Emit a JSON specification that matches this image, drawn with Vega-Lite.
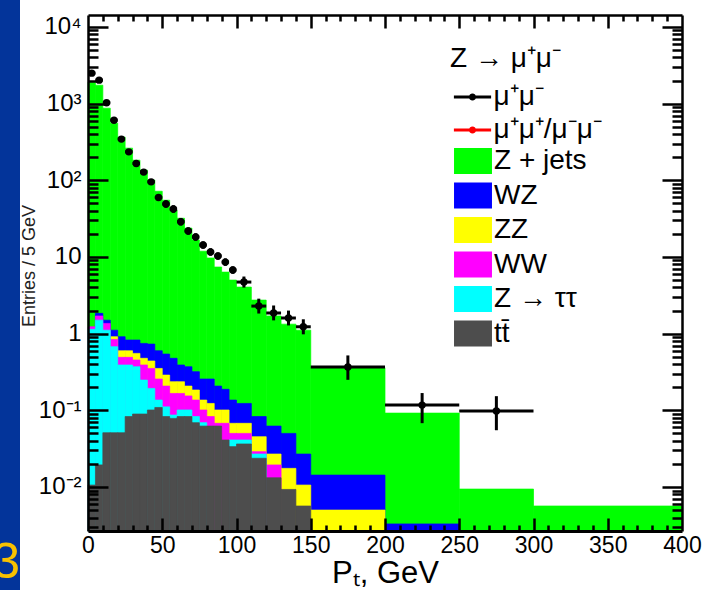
{
  "$schema": "https://vega.github.io/schema/vega-lite/v6.json",
  "padding": 0,
  "background": "white",
  "spacing": 0,
  "config": {"view": {"stroke": null}, "font": "Liberation Sans", "scale": {"continuousPadding": 0}},
  "datasets": {
    "hist": [
      {"lo":0,"hi":5,"p":"Z + jets","top":1905},{"lo":5,"hi":10,"p":"Z + jets","top":1740},{"lo":10,"hi":15,"p":"Z + jets","top":873},{"lo":15,"hi":20,"p":"Z + jets","top":557},{"lo":20,"hi":25,"p":"Z + jets","top":366},{"lo":25,"hi":30,"p":"Z + jets","top":263},{"lo":30,"hi":35,"p":"Z + jets","top":183},{"lo":35,"hi":40,"p":"Z + jets","top":136},{"lo":40,"hi":45,"p":"Z + jets","top":101},{"lo":45,"hi":50,"p":"Z + jets","top":72},{"lo":50,"hi":55,"p":"Z + jets","top":55},{"lo":55,"hi":60,"p":"Z + jets","top":41},{"lo":60,"hi":65,"p":"Z + jets","top":32},{"lo":65,"hi":70,"p":"Z + jets","top":23.8},{"lo":70,"hi":75,"p":"Z + jets","top":16.6},{"lo":75,"hi":80,"p":"Z + jets","top":11.9},{"lo":80,"hi":85,"p":"Z + jets","top":9.7},{"lo":85,"hi":90,"p":"Z + jets","top":7.4},{"lo":90,"hi":95,"p":"Z + jets","top":6.35},{"lo":95,"hi":100,"p":"Z + jets","top":5.0},{"lo":100,"hi":110,"p":"Z + jets","top":4.05},{"lo":110,"hi":120,"p":"Z + jets","top":2.74},{"lo":120,"hi":130,"p":"Z + jets","top":1.70},{"lo":130,"hi":140,"p":"Z + jets","top":1.33},{"lo":140,"hi":150,"p":"Z + jets","top":1.11},{"lo":150,"hi":200,"p":"Z + jets","top":0.36},{"lo":200,"hi":250,"p":"Z + jets","top":0.092},{"lo":250,"hi":300,"p":"Z + jets","top":0.0094},{"lo":300,"hi":400,"p":"Z + jets","top":0.00565},
      {"lo":5,"hi":10,"p":"WZ","top":1.84},{"lo":10,"hi":15,"p":"WZ","top":1.50},{"lo":15,"hi":20,"p":"WZ","top":1.11},{"lo":20,"hi":25,"p":"WZ","top":0.912},{"lo":25,"hi":30,"p":"WZ","top":0.826},{"lo":30,"hi":35,"p":"WZ","top":0.826},{"lo":35,"hi":40,"p":"WZ","top":0.746},{"lo":40,"hi":45,"p":"WZ","top":0.731},{"lo":45,"hi":50,"p":"WZ","top":0.598},{"lo":50,"hi":55,"p":"WZ","top":0.542},{"lo":55,"hi":60,"p":"WZ","top":0.477},{"lo":60,"hi":65,"p":"WZ","top":0.39},{"lo":65,"hi":70,"p":"WZ","top":0.37},{"lo":70,"hi":75,"p":"WZ","top":0.319},{"lo":75,"hi":80,"p":"WZ","top":0.256},{"lo":80,"hi":85,"p":"WZ","top":0.256},{"lo":85,"hi":90,"p":"WZ","top":0.207},{"lo":90,"hi":95,"p":"WZ","top":0.188},{"lo":95,"hi":100,"p":"WZ","top":0.136},{"lo":100,"hi":110,"p":"WZ","top":0.123},{"lo":110,"hi":120,"p":"WZ","top":0.083},{"lo":120,"hi":130,"p":"WZ","top":0.0623},{"lo":130,"hi":140,"p":"WZ","top":0.050},{"lo":140,"hi":150,"p":"WZ","top":0.0269},{"lo":150,"hi":200,"p":"WZ","top":0.0143},{"lo":200,"hi":250,"p":"WZ","top":0.0033},
      {"lo":15,"hi":20,"p":"ZZ","top":0.912},{"lo":20,"hi":25,"p":"ZZ","top":0.598},{"lo":25,"hi":30,"p":"ZZ","top":0.598},{"lo":30,"hi":35,"p":"ZZ","top":0.553},{"lo":35,"hi":40,"p":"ZZ","top":0.477},{"lo":40,"hi":45,"p":"ZZ","top":0.44},{"lo":45,"hi":50,"p":"ZZ","top":0.352},{"lo":50,"hi":55,"p":"ZZ","top":0.288},{"lo":55,"hi":60,"p":"ZZ","top":0.236},{"lo":60,"hi":65,"p":"ZZ","top":0.236},{"lo":65,"hi":70,"p":"ZZ","top":0.207},{"lo":70,"hi":75,"p":"ZZ","top":0.184},{"lo":75,"hi":80,"p":"ZZ","top":0.136},{"lo":80,"hi":85,"p":"ZZ","top":0.123},{"lo":85,"hi":90,"p":"ZZ","top":0.101},{"lo":90,"hi":95,"p":"ZZ","top":0.101},{"lo":95,"hi":100,"p":"ZZ","top":0.0677},{"lo":100,"hi":110,"p":"ZZ","top":0.0677},{"lo":110,"hi":120,"p":"ZZ","top":0.0453},{"lo":120,"hi":130,"p":"ZZ","top":0.0269},{"lo":130,"hi":140,"p":"ZZ","top":0.0175},{"lo":140,"hi":150,"p":"ZZ","top":0.0106},{"lo":150,"hi":200,"p":"ZZ","top":0.0050},
      {"lo":0,"hi":5,"p":"WW","top":1.23},{"lo":5,"hi":10,"p":"WW","top":1.70},{"lo":10,"hi":15,"p":"WW","top":1.36},{"lo":15,"hi":20,"p":"WW","top":0.841},{"lo":20,"hi":25,"p":"WW","top":0.491},{"lo":25,"hi":30,"p":"WW","top":0.491},{"lo":30,"hi":35,"p":"WW","top":0.453},{"lo":35,"hi":40,"p":"WW","top":0.39},{"lo":40,"hi":45,"p":"WW","top":0.352},{"lo":45,"hi":50,"p":"WW","top":0.256},{"lo":50,"hi":55,"p":"WW","top":0.207},{"lo":55,"hi":60,"p":"WW","top":0.166},{"lo":60,"hi":65,"p":"WW","top":0.166},{"lo":65,"hi":70,"p":"WW","top":0.154},{"lo":70,"hi":75,"p":"WW","top":0.136},{"lo":75,"hi":80,"p":"WW","top":0.101},{"lo":80,"hi":85,"p":"WW","top":0.083},{"lo":85,"hi":90,"p":"WW","top":0.0677},{"lo":90,"hi":95,"p":"WW","top":0.0677},{"lo":95,"hi":100,"p":"WW","top":0.050},{"lo":100,"hi":110,"p":"WW","top":0.050},{"lo":110,"hi":120,"p":"WW","top":0.0289},{"lo":120,"hi":130,"p":"WW","top":0.0194},
      {"lo":0,"hi":5,"p":"Z → ττ","top":1.14},{"lo":5,"hi":10,"p":"Z → ττ","top":1.50},{"lo":10,"hi":15,"p":"Z → ττ","top":1.11},{"lo":15,"hi":20,"p":"Z → ττ","top":0.676},{"lo":20,"hi":25,"p":"Z → ττ","top":0.39},{"lo":25,"hi":30,"p":"Z → ττ","top":0.39},{"lo":30,"hi":35,"p":"Z → ττ","top":0.37},{"lo":35,"hi":40,"p":"Z → ττ","top":0.248},{"lo":40,"hi":45,"p":"Z → ττ","top":0.193},{"lo":45,"hi":50,"p":"Z → ττ","top":0.136},{"lo":50,"hi":55,"p":"Z → ττ","top":0.111},{"lo":55,"hi":60,"p":"Z → ττ","top":0.0868},{"lo":60,"hi":65,"p":"Z → ττ","top":0.101},{"lo":65,"hi":70,"p":"Z → ττ","top":0.101},{"lo":70,"hi":75,"p":"Z → ττ","top":0.083},{"lo":75,"hi":80,"p":"Z → ττ","top":0.069},{"lo":95,"hi":100,"p":"Z → ττ","top":0.041},{"lo":100,"hi":110,"p":"Z → ττ","top":0.041},{"lo":110,"hi":120,"p":"Z → ττ","top":0.0269},
      {"lo":0,"hi":5,"p":"tt̄","top":0.0106},{"lo":5,"hi":10,"p":"tt̄","top":0.0194},{"lo":10,"hi":15,"p":"tt̄","top":0.051},{"lo":15,"hi":20,"p":"tt̄","top":0.051},{"lo":20,"hi":25,"p":"tt̄","top":0.051},{"lo":25,"hi":30,"p":"tt̄","top":0.083},{"lo":30,"hi":35,"p":"tt̄","top":0.0895},{"lo":35,"hi":40,"p":"tt̄","top":0.0895},{"lo":40,"hi":45,"p":"tt̄","top":0.101},{"lo":45,"hi":50,"p":"tt̄","top":0.109},{"lo":50,"hi":55,"p":"tt̄","top":0.083},{"lo":55,"hi":60,"p":"tt̄","top":0.0785},{"lo":60,"hi":65,"p":"tt̄","top":0.083},{"lo":65,"hi":70,"p":"tt̄","top":0.083},{"lo":70,"hi":75,"p":"tt̄","top":0.069},{"lo":75,"hi":80,"p":"tt̄","top":0.0623},{"lo":80,"hi":85,"p":"tt̄","top":0.0623},{"lo":85,"hi":90,"p":"tt̄","top":0.0623},{"lo":90,"hi":95,"p":"tt̄","top":0.041},{"lo":95,"hi":100,"p":"tt̄","top":0.0336},{"lo":100,"hi":110,"p":"tt̄","top":0.0364},{"lo":110,"hi":120,"p":"tt̄","top":0.0237},{"lo":120,"hi":130,"p":"tt̄","top":0.0132},{"lo":130,"hi":140,"p":"tt̄","top":0.0093},{"lo":140,"hi":150,"p":"tt̄","top":0.00565}
    ],
    "pts": [
      {"s":"μ⁺μ⁻","xc":2.5,"xlo":0,"xhi":5,"v":2500,"vlo":2381,"vhi":2625},
      {"s":"μ⁺μ⁻","xc":7.5,"xlo":5,"xhi":10,"v":2025,"vlo":1929,"vhi":2126},
      {"s":"μ⁺μ⁻","xc":12.5,"xlo":10,"xhi":15,"v":1025,"vlo":976,"vhi":1076},
      {"s":"μ⁺μ⁻","xc":17.5,"xlo":15,"xhi":20,"v":609,"vlo":580,"vhi":639},
      {"s":"μ⁺μ⁻","xc":22.5,"xlo":20,"xhi":25,"v":345,"vlo":329,"vhi":362},
      {"s":"μ⁺μ⁻","xc":27.5,"xlo":25,"xhi":30,"v":235,"vlo":224,"vhi":247},
      {"s":"μ⁺μ⁻","xc":32.5,"xlo":30,"xhi":35,"v":166,"vlo":158,"vhi":174},
      {"s":"μ⁺μ⁻","xc":37.5,"xlo":35,"xhi":40,"v":128,"vlo":122,"vhi":134},
      {"s":"μ⁺μ⁻","xc":42.5,"xlo":40,"xhi":45,"v":95.5,"vlo":91,"vhi":100},
      {"s":"μ⁺μ⁻","xc":47.5,"xlo":45,"xhi":50,"v":59.8,"vlo":57,"vhi":63},
      {"s":"μ⁺μ⁻","xc":52.5,"xlo":50,"xhi":55,"v":49,"vlo":43.8,"vhi":54.9},
      {"s":"μ⁺μ⁻","xc":57.5,"xlo":55,"xhi":60,"v":42.2,"vlo":37.7,"vhi":47.3},
      {"s":"μ⁺μ⁻","xc":62.5,"xlo":60,"xhi":65,"v":28.8,"vlo":25.7,"vhi":32.3},
      {"s":"μ⁺μ⁻","xc":67.5,"xlo":65,"xhi":70,"v":21.8,"vlo":19.5,"vhi":24.4},
      {"s":"μ⁺μ⁻","xc":72.5,"xlo":70,"xhi":75,"v":18.2,"vlo":16.3,"vhi":20.4},
      {"s":"μ⁺μ⁻","xc":77.5,"xlo":75,"xhi":80,"v":14.3,"vlo":12.8,"vhi":16.0},
      {"s":"μ⁺μ⁻","xc":82.5,"xlo":80,"xhi":85,"v":11.6,"vlo":10.4,"vhi":13.0},
      {"s":"μ⁺μ⁻","xc":87.5,"xlo":85,"xhi":90,"v":10.3,"vlo":9.2,"vhi":11.5},
      {"s":"μ⁺μ⁻","xc":92.5,"xlo":90,"xhi":95,"v":8.58,"vlo":7.66,"vhi":9.61},
      {"s":"μ⁺μ⁻","xc":97.5,"xlo":95,"xhi":100,"v":6.75,"vlo":6.03,"vhi":7.56},
      {"s":"μ⁺μ⁻","xc":105,"xlo":100,"xhi":110,"v":4.71,"vlo":3.99,"vhi":5.56},
      {"s":"μ⁺μ⁻","xc":115,"xlo":110,"xhi":120,"v":2.29,"vlo":1.83,"vhi":2.86},
      {"s":"μ⁺μ⁻","xc":125,"xlo":120,"xhi":130,"v":1.86,"vlo":1.49,"vhi":2.33},
      {"s":"μ⁺μ⁻","xc":135,"xlo":130,"xhi":140,"v":1.60,"vlo":1.28,"vhi":2.0},
      {"s":"μ⁺μ⁻","xc":145,"xlo":140,"xhi":150,"v":1.23,"vlo":0.98,"vhi":1.54},
      {"s":"μ⁺μ⁻","xc":175,"xlo":150,"xhi":200,"v":0.367,"vlo":0.25,"vhi":0.52},
      {"s":"μ⁺μ⁻","xc":225,"xlo":200,"xhi":250,"v":0.117,"vlo":0.068,"vhi":0.168},
      {"s":"μ⁺μ⁻","xc":275,"xlo":250,"xhi":300,"v":0.098,"vlo":0.055,"vhi":0.153}
    ]
  },
  "hconcat": [
    {
      "width": 20,
      "height": 590,
      "view": {"fill": "#03349a", "stroke": null},
      "data": {"values": [{"n": "3"}]},
      "mark": {"type": "text", "clip": true, "font": "Liberation Sans", "fontSize": 50, "color": "#f8c100", "align": "right", "baseline": "alphabetic", "dy": -12},
      "encoding": {"text": {"field": "n"}, "x": {"value": "width"}, "y": {"value": "height"}}
    },
    {
      "width": 594,
      "height": 531,
      "view": {"stroke": null},
      "resolve": {"axis": {"x": "independent"}},
      "layer": [
        {
          "data": {"name": "hist"},
          "mark": {"type": "bar", "orient": "vertical", "strokeWidth": 0.7},
          "encoding": {
            "x": {"field": "lo", "type": "quantitative",
              "scale": {"domain": [0, 400], "nice": false, "zero": false, "padding": 0},
              "axis": {
                "orient": "bottom",
                "title": "Pₜ, GeV",
                "values": [0,50,100,150,200,250,300,350,400],
                "format": "d",
                "labelFlush": false, "labelOverlap": false, "labelFontSize": 23, "labelPadding": 3, "labelColor": "black", "labelFont": "Liberation Sans",
                "ticks": false, "tickSize": 0,
                "domain": true, "domainColor": "black", "domainWidth": 3,
                "grid": true, "gridColor": "black", "gridWidth": 2.5, "gridOpacity": 1,
                "gridDash": {"condition": {"test": "datum.value === 0 || datum.value >= 400", "value": [0, 15, 516, 100]}, "value": [0, 15, 13, 490, 13, 100]},
                "titleFontSize": 31, "titleFont": "Liberation Sans", "titleFontWeight": "normal", "titleColor": "black", "titlePadding": 1,
                "zindex": 1
              }
            },
            "x2": {"field": "hi"},
            "y": {"field": "top", "type": "quantitative", "stack": null,
              "scale": {"type": "log", "domain": [0.002667, 22490], "nice": false},
              "axis": {
                "title": "Entries / 5 GeV",
                "values": [0.003,0.004,0.005,0.006,0.007,0.008,0.009,0.01,0.02,0.03,0.04,0.05,0.06,0.07,0.08,0.09,0.1,0.2,0.3,0.4,0.5,0.6,0.7,0.8,0.9,1,2,3,4,5,6,7,8,9,10,20,30,40,50,60,70,80,90,100,200,300,400,500,600,700,800,900,1000,2000,3000,4000,5000,6000,7000,8000,9000,10000,14330],
                "labelExpr": "datum.value === 10000 ? '10⁴' : datum.value === 1000 ? '10³' : datum.value === 100 ? '10²' : datum.value === 10 ? '10' : datum.value === 1 ? '1' : datum.value === 0.1 ? '10⁻¹' : datum.value === 0.01 ? '10⁻²' : ''",
                "labelOverlap": false, "labelFontSize": 24, "labelPadding": 7, "labelColor": "black", "labelFont": "Liberation Sans",
                "ticks": false, "tickSize": 0,
                "domain": false,
                "grid": true, "gridColor": "black", "gridWidth": 2.5, "gridOpacity": 1,
                "gridDash": {"condition": [{"test": "datum.value > 11000", "value": [1000, 0]}, {"test": "abs(log(datum.value)/LN10 - round(log(datum.value)/LN10)) < 0.000001", "value": [20, 554, 20, 100]}], "value": [10, 574, 10, 100]},
                "titleFontSize": 18, "titleFont": "Liberation Sans", "titleFontWeight": "normal", "titleColor": "#222222", "titlePadding": 0,
                "zindex": 1
              }
            },
            "fill": {"field": "p", "type": "nominal",
              "scale": {"domain": ["Z + jets", "WZ", "ZZ", "WW", "Z → ττ", "tt̄"], "range": ["#00ff00", "#0000ff", "#ffff00", "#ff00ff", "#00ffff", "#4d4d4d"]},
              "legend": {"orient": "none", "legendX": 459, "legendY": 147, "title": null, "padding": 0,
                "symbolType": "M-1.46,-1H1.46V1H-1.46Z", "symbolSize": 676, "symbolStrokeWidth": 0,
                "labelFont": "Liberation Sans", "labelFontSize": 28, "labelColor": "black", "labelOffset": 7, "rowPadding": 6.5, "labelLimit": 300}
            },
            "stroke": {"field": "p", "type": "nominal",
              "scale": {"domain": ["Z + jets", "WZ", "ZZ", "WW", "Z → ττ", "tt̄"], "range": ["#00ff00", "#0000ff", "#ffff00", "#ff00ff", "#00ffff", "#4d4d4d"]},
              "legend": null
            }
          }
        },
        {
          "data": {"name": "pts"},
          "mark": {"type": "rule", "color": "black", "strokeWidth": 3},
          "encoding": {
            "x": {"field": "xlo", "type": "quantitative", "scale": {"domain": [0, 400], "nice": false, "zero": false, "padding": 0},
              "axis": {
                "orient": "top", "title": null,
                "values": [10,20,30,40,60,70,80,90,110,120,130,140,160,170,180,190,210,220,230,240,260,270,280,290,310,320,330,340,360,370,380,390],
                "labels": false, "ticks": false, "domain": false,
                "grid": true, "gridColor": "black", "gridWidth": 2.5, "gridOpacity": 1, "gridDash": [6, 504, 6, 100],
                "zindex": 1
              }
            },
            "x2": {"field": "xhi"},
            "y": {"field": "v", "type": "quantitative", "scale": {"type": "log", "domain": [0.002667, 22490], "nice": false}}
          }
        },
        {
          "data": {"name": "pts"},
          "mark": {"type": "rule", "color": "black", "strokeWidth": 3},
          "encoding": {
            "x": {"field": "xc", "type": "quantitative", "scale": {"domain": [0, 400], "nice": false, "zero": false, "padding": 0}, "axis": null},
            "y": {"field": "vlo", "type": "quantitative", "scale": {"type": "log", "domain": [0.002667, 22490], "nice": false}},
            "y2": {"field": "vhi"}
          }
        },
        {
          "data": {"name": "pts"},
          "mark": {"type": "point", "filled": true, "shape": "circle", "size": 55, "opacity": 1},
          "encoding": {
            "x": {"field": "xc", "type": "quantitative", "scale": {"domain": [0, 400], "nice": false, "zero": false, "padding": 0}, "axis": null},
            "y": {"field": "v", "type": "quantitative", "scale": {"type": "log", "domain": [0.002667, 22490], "nice": false}},
            "color": {"field": "s", "type": "nominal",
              "scale": {"domain": ["μ⁺μ⁻", "μ⁺μ⁺/μ⁻μ⁻"], "range": ["#000000", "#ff0000"]},
              "legend": {"orient": "none", "legendX": 450, "legendY": 45, "title": "Z → μ⁺μ⁻", "padding": 0,
                "titleFont": "Liberation Sans", "titleFontSize": 28, "titleFontWeight": "normal", "titleColor": "black", "titlePadding": 10,
                "symbolType": "M-1.55,-0.12H1.55V0.12H-1.55ZM0.3,0A0.3,0.3,0,1,1,-0.3,0A0.3,0.3,0,1,1,0.3,0Z", "symbolSize": 576, "symbolOffset": 8.5, "symbolStrokeWidth": 0,
                "labelFont": "Liberation Sans", "labelFontSize": 28, "labelColor": "black", "labelOffset": 7, "rowPadding": 5, "labelLimit": 300}
            }
          }
        }
      ]
    }
  ]
}
